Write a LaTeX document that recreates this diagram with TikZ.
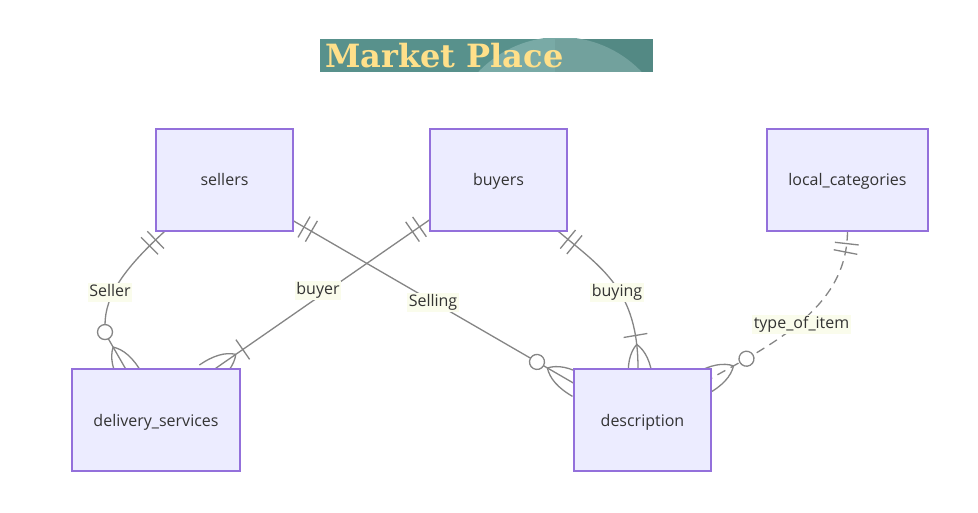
\documentclass[tikz,border=0pt]{standalone}
\usepackage{fontspec}
\setmainfont{Open Sans}
\newfontfamily\titlefont{DejaVu Serif}
\usetikzlibrary{decorations.markings}
\pgfdeclarelayer{paper}
\pgfdeclarelayer{edges}
\pgfsetlayers{paper,edges,main}
\definecolor{boxfill}{HTML}{ECECFF}
\definecolor{boxline}{HTML}{9370DB}
\definecolor{edgecol}{HTML}{858585}
\definecolor{labelbg}{HTML}{FAFCEC}
\definecolor{textcol}{HTML}{333333}
\definecolor{tealA}{HTML}{58918C}
\definecolor{tealB}{HTML}{79AAA6}
\definecolor{titleyellow}{HTML}{FFE08A}
\tikzset{
  entity/.style={draw=boxline, fill=boxfill, line width=1.3pt, minimum height=102pt,
    text=textcol, font=\fontsize{16}{19}\selectfont, inner sep=0pt,
    text height=12pt, text depth=0pt},
  rel/.style={draw=edgecol, line width=1.3pt},
  rellabel/.style={fill=labelbg, text=textcol, font=\fontsize{16}{19}\selectfont,
    inner sep=1.5pt, text height=12pt, text depth=4pt},
  onestart/.style={postaction={decorate,decoration={markings,
    mark=at position 12pt with {\draw[rel,solid] (0pt,-12pt)--(0pt,12pt);},
    mark=at position 20.5pt with {\draw[rel,solid] (0pt,-12pt)--(0pt,12pt);}}}},
  barend/.style={postaction={decorate,decoration={markings,
    mark=at position -#1 with {\draw[rel,solid] (0pt,-12pt)--(0pt,12pt);}}}},
  circend/.style={postaction={decorate,decoration={markings,
    mark=at position -#1 with {\draw[rel,solid,fill=white] (0pt,0pt) circle[radius=7.5pt];}}}},
  crowend/.style={postaction={decorate,decoration={markings,
    mark=at position -#1 with {
      \draw[rel,solid] (0pt,0pt) .. controls (7.3pt,8pt) and (19.3pt,12pt) .. (36pt,12pt);
      \draw[rel,solid] (0pt,0pt) .. controls (7.3pt,-8pt) and (19.3pt,-12pt) .. (36pt,-12pt);}}}},
}
\begin{document}
\begin{tikzpicture}[x=1pt,y=-1pt]
\useasboundingbox (0,0) rectangle (978,513);
\begin{pgfonlayer}{paper}
\fill[white] (0,0) rectangle (978,513);
\end{pgfonlayer}

% title banner
\begin{scope}
  \clip (320,39) rectangle (653,72);
  \fill[tealA] (320,39) rectangle (653,72);
  \fill[tealB] (560,150) circle[radius=113];
  \fill[black, opacity=0.05] (555,39) rectangle (653,72);
\end{scope}
\node[font=\titlefont\bfseries\fontsize{32}{36}\selectfont, text=titleyellow,
  anchor=base west, inner sep=0pt] (title) at (325,68) {Market Place};

% entities
\node[entity, minimum width=137pt] (sellers) at (224.5,180) {sellers};
\node[entity, minimum width=137pt] (buyers) at (498.5,180) {buyers};
\node[entity, minimum width=161pt] (localcat) at (847.5,180) {local\_categories};
\node[entity, minimum width=168pt] (delivery) at (156,420) {delivery\_services};
\node[entity, minimum width=137pt] (description) at (642.5,420) {description};

% relationships
\begin{pgfonlayer}{edges}
\draw[rel, onestart, circend=41.7pt, crowend=24.5pt]
  ([xshift=9pt]sellers.south west) .. controls (125,268) and (105,295) .. (105,325)
  -- (105,333) -- ([xshift=54pt]delivery.north west);
\draw[rel, onestart, barend=33pt, crowend=24.5pt]
  ([yshift=-40pt]buyers.west) -- ([xshift=-25pt]delivery.north east);
\draw[rel, onestart, circend=42pt, crowend=30pt]
  ([yshift=-41pt]sellers.east) -- ([yshift=37pt]description.west);
\draw[rel, onestart, barend=33pt, crowend=24pt]
  ([xshift=-9pt]buyers.south east) .. controls (602,268) and (638,290) .. ([xshift=-4.5pt]description.north);
\draw[rel, dash pattern=on 9pt off 6pt, onestart, circend=39.8pt, crowend=25pt]
  (localcat.south) .. controls (847,290) and (805,325) .. (746,359) -- ([yshift=42pt]description.east);
\end{pgfonlayer}

% relationship labels
\node[rellabel] (lseller) at (110,293) {Seller};
\node[rellabel] (lbuyer) at (318,291) {buyer};
\node[rellabel] (lselling) at (433,303) {Selling};
\node[rellabel] (lbuying) at (617,293) {buying};
\node[rellabel] (ltype) at (801.5,325) {type\_of\_item};
\end{tikzpicture}
\end{document}
